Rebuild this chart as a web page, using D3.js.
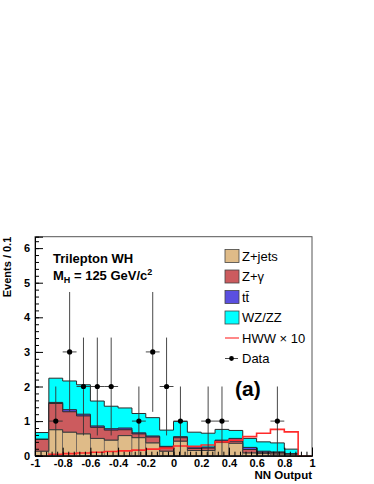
<!DOCTYPE html>
<html>
<head>
<meta charset="utf-8">
<script src="https://cdn.jsdelivr.net/npm/d3@7"></script>
<style>
  html, body { margin: 0; padding: 0; background: #fff; }
  svg { display: block; font-family: "Liberation Sans", Arial, Helvetica, sans-serif; }
</style>
</head>
<body>
<div id="chart"></div>
<script>
// bin low edges, width 0.1
const binLo = [-1.0, -0.9, -0.8, -0.7, -0.6, -0.5, -0.4, -0.3, -0.2, -0.1,
               0.0, 0.1, 0.2, 0.3, 0.4, 0.5, 0.6, 0.7, 0.8, 0.9];
const binWidth = 0.1;

// background components (stacked bottom -> top)
const zjets  = [0.13, 0.75, 0.68, 0.63, 0.50, 0.45, 0.58, 0.52, 0.37, 0.13,
                0.42, 0.15, 0.15, 0.38, 0.36, 0.08, 0.06, 0.05, 0.04, 0.00];
const zgamma = [0.34, 0.76, 0.59, 0.52, 0.32, 0.29, 0.17, 0.11, 0.17, 0.11,
                0.10, 0.06, 0.07, 0.04, 0.06, 0.10, 0.04, 0.04, 0.01, 0.00];
const ttbar  = [0.01, 0.03, 0.06, 0.05, 0.04, 0.04, 0.05, 0.03, 0.03, 0.03,
                0.03, 0.04, 0.03, 0.03, 0.08, 0.06, 0.03, 0.02, 0.01, 0.00];
const wzzz   = [0.19, 0.70, 0.83, 0.85, 0.72, 0.65, 0.58, 0.56, 0.53, 0.47,
                0.44, 0.43, 0.40, 0.31, 0.23, 0.26, 0.27, 0.26, 0.13, 0.00];

// signal x10 (not stacked)
const hww10  = [0.00, 0.04, 0.06, 0.08, 0.10, 0.12, 0.14, 0.16, 0.19, 0.22,
                0.28, 0.27, 0.31, 0.40, 0.45, 0.55, 0.65, 0.76, 0.69, 0.00];

// observed events
const dataX = [-0.85, -0.75, -0.65, -0.55, -0.45, -0.25, -0.15, -0.05, 0.05, 0.25, 0.35, 0.75];
const dataN = [1, 3, 2, 2, 2, 1, 3, 2, 1, 1, 1, 1];

const xMajor = [-1, -0.8, -0.6, -0.4, -0.2, 0, 0.2, 0.4, 0.6, 0.8, 1];
const yMajor = [0, 1, 2, 3, 4, 5, 6];

const seriesKeys = ["zjets", "zgamma", "ttbar", "wzzz"];
const seriesColor = { zjets: "#dfbb88", zgamma: "#cc5b5e", ttbar: "#5a4fe0", wzzz: "#00ffff" };
const legendItems = [
    { label: "Z+jets", kind: "box", color: seriesColor.zjets },
    { label: "Z+\u03b3", kind: "box", color: seriesColor.zgamma },
    { label: "tt\u0304", kind: "box", color: seriesColor.ttbar },
    { label: "WZ/ZZ", kind: "box", color: seriesColor.wzzz },
    { label: "HWW \u00d7 10", kind: "line", color: "#ff2a2a" },
    { label: "Data", kind: "marker", color: "#000" }
];

const W = 374, H = 484;
const frame = { left: 35, right: 312, top: 236.7, bottom: 455.7 };

const svg = d3.select("#chart").append("svg").attr("width", W).attr("height", H);

const x = d3.scaleLinear().domain([-1, 1]).range([frame.left, frame.right]);
const y = d3.scaleLinear().domain([0, 6.33]).range([frame.bottom, frame.top]);

// stacked table
const table = binLo.map((lo, i) => ({
    lo, zjets: zjets[i], zgamma: zgamma[i], ttbar: ttbar[i], wzzz: wzzz[i]
}));
const stacked = d3.stack().keys(seriesKeys)(table);

// step points for a histogram
const stepPts = (vals) => {
    const pts = [];
    vals.forEach((v, i) => {
        pts.push([binLo[i], v]);
        pts.push([binLo[i] + binWidth, v]);
    });
    return pts;
};

const area = d3.area()
    .x(d => x(d[0]))
    .y0(y(0))
    .y1(d => y(d[1]));
const line = d3.line()
    .x(d => x(d[0]))
    .y(d => y(d[1]));

const plot = svg.append("g");

// ROOT-like stack: draw cumulative totals from the top layer down
for (let k = stacked.length - 1; k >= 0; k--) {
    const layer = stacked[k];
    const tops = layer.map(d => d[1]);
    const key = layer.key;
    if (key === "zjets") {
        plot.selectAll("rect.zj")
            .data(tops)
            .join("rect")
            .attr("class", "zj")
            .attr("x", (d, i) => x(binLo[i]))
            .attr("width", x(binWidth) - x(0))
            .attr("y", d => y(d))
            .attr("height", d => y(0) - y(d))
            .attr("fill", seriesColor[key])
            .attr("stroke", "#555")
            .attr("stroke-width", 0.6);
    } else {
        const pts = stepPts(tops);
        plot.append("path").attr("d", area(pts)).attr("fill", seriesColor[key]);
        plot.append("path").attr("d", line(pts))
            .attr("fill", "none").attr("stroke", "#2a2a2a").attr("stroke-width", 1);
    }
}
// outline on top of tan rects
plot.append("path").attr("d", line(stepPts(zjets)))
    .attr("fill", "none").attr("stroke", "#3a3a3a").attr("stroke-width", 1);

// signal
const hwwPts = [[-1, 0]].concat(stepPts(hww10));
plot.append("path").attr("d", line(hwwPts))
    .attr("fill", "none").attr("stroke", "#ff2a2a").attr("stroke-width", 1.6);

// data with sqrt(N) errors
const dataG = plot.append("g");
dataX.forEach((dx, i) => {
    const n = dataN[i], e = Math.sqrt(n);
    dataG.append("line")
        .attr("x1", x(dx)).attr("x2", x(dx))
        .attr("y1", y(Math.max(0, n - e))).attr("y2", y(n + e))
        .attr("stroke", "#333").attr("stroke-width", 0.9);
    dataG.append("line")
        .attr("x1", x(dx - binWidth / 2)).attr("x2", x(dx + binWidth / 2))
        .attr("y1", y(n)).attr("y2", y(n))
        .attr("stroke", "#333").attr("stroke-width", 0.9);
    dataG.append("circle").attr("cx", x(dx)).attr("cy", y(n)).attr("r", 2.6).attr("fill", "#000");
});

// frame
svg.append("rect")
    .attr("x", frame.left).attr("y", frame.top)
    .attr("width", frame.right - frame.left).attr("height", frame.bottom - frame.top)
    .attr("fill", "none").attr("stroke", "#555").attr("stroke-width", 1);

// axes, ticks pointing into the frame
const fmt = d => String(+d.toFixed(1));
const xMinor = d3.range(-1, 1.0001, 0.04).map(v => +v.toFixed(2));
const yMinor = d3.range(0, 6.3, 0.2).map(v => +v.toFixed(1));

const xAxisG = svg.append("g").attr("transform", `translate(0,${frame.bottom})`);
xAxisG.append("g").call(d3.axisBottom(x).tickValues(xMinor).tickSize(-4).tickFormat(""));
xAxisG.append("g").call(d3.axisBottom(x).tickValues(xMajor).tickSize(-8).tickPadding(4).tickFormat(fmt));

const yAxisG = svg.append("g").attr("transform", `translate(${frame.left},0)`);
yAxisG.append("g").call(d3.axisLeft(y).tickValues(yMinor).tickSize(-4).tickFormat(""));
yAxisG.append("g").call(d3.axisLeft(y).tickValues(yMajor).tickSize(-8).tickPadding(5).tickFormat(fmt));

svg.selectAll(".domain").attr("stroke", "#000");
svg.selectAll(".tick line").attr("stroke", "#000");
svg.selectAll(".tick text")
    .attr("fill", "#000")
    .style("font-family", "'Liberation Sans', Arial, sans-serif")
    .style("font-size", "11px")
    .style("font-weight", "bold");

// axis titles
svg.append("text")
    .attr("x", frame.right).attr("y", 479)
    .attr("text-anchor", "end")
    .style("font-size", "11.5px").style("font-weight", "bold")
    .text("NN Output");
svg.append("text")
    .attr("transform", `translate(11,${frame.top}) rotate(-90)`)
    .attr("text-anchor", "end")
    .style("font-size", "11px").style("font-weight", "bold")
    .text("Events / 0.1");

// labels inside the frame
svg.append("text")
    .attr("x", 53).attr("y", 263)
    .style("font-size", "13px").style("font-weight", "bold")
    .text("Trilepton WH");
const mh = svg.append("text")
    .attr("x", 53).attr("y", 280)
    .style("font-size", "13px").style("font-weight", "bold");
mh.append("tspan").text("M");
mh.append("tspan").attr("dy", 3).style("font-size", "9px").text("H");
mh.append("tspan").attr("dy", -3).text(" = 125 GeV/c");
mh.append("tspan").attr("dy", -5).style("font-size", "9px").text("2");

svg.append("text")
    .attr("x", 235).attr("y", 396)
    .style("font-size", "21px").style("font-weight", "bold")
    .text("(a)");

// legend
const legend = svg.append("g");
legendItems.forEach((it, i) => {
    const cy = 256 + i * 20.5;
    const g = legend.append("g");
    if (it.kind === "box") {
        g.append("rect").attr("x", 225).attr("y", cy - 6.5).attr("width", 14).attr("height", 13)
            .attr("fill", it.color).attr("stroke", "#444").attr("stroke-width", 0.8);
    } else if (it.kind === "line") {
        g.append("line").attr("x1", 225).attr("x2", 239).attr("y1", cy).attr("y2", cy)
            .attr("stroke", "#ff6a6a").attr("stroke-width", 1.6);
    } else {
        g.append("line").attr("x1", 225).attr("x2", 238).attr("y1", cy).attr("y2", cy)
            .attr("stroke", "#333").attr("stroke-width", 0.9);
        g.append("circle").attr("cx", 231.5).attr("cy", cy).attr("r", 2.4).attr("fill", "#000");
    }
    g.append("text").attr("x", 242).attr("y", cy + 4.5)
        .style("font-size", "13px")
        .text(it.label);
});
</script>
</body>
</html>
